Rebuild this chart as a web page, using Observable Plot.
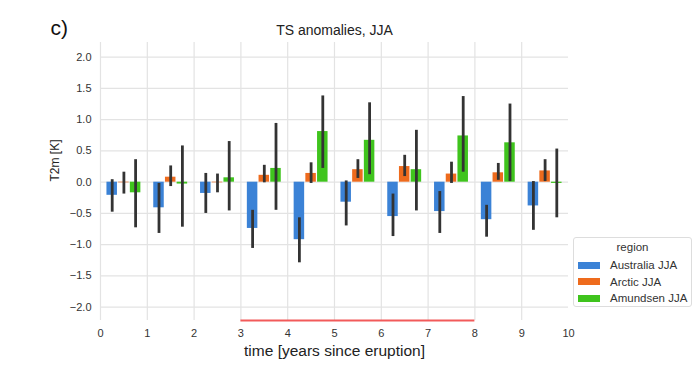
<!DOCTYPE html>
<html>
<head>
<meta charset="utf-8">
<script src="https://cdn.jsdelivr.net/npm/d3@7"></script>
<script src="https://cdn.jsdelivr.net/npm/@observablehq/plot@0.6"></script>
<style>
  body { margin: 0; background: #fff; font-family: "Liberation Sans", Arial, sans-serif; }
  #wrap { position: relative; width: 700px; height: 371px; }
  #legend { position: absolute; left: 573px; top: 237px; width: 119px; height: 70px;
    border: 1px solid #ddd; border-radius: 3px; background: #fff; box-sizing: border-box; font-size: 11.5px; color: #333; }
  #legend .ttl { text-align: center; margin-top: 3px; height: 16px; }
  #legend .row { display: flex; align-items: center; height: 16.5px; padding-left: 4px; }
  #legend .sw { width: 22px; height: 7px; margin-right: 10px; }
</style>
</head>
<body>
<div id="wrap"></div>
<script>
const years = [0, 1, 2, 3, 4, 5, 6, 7, 8, 9];
const regions = ["Australia JJA", "Arctic JJA", "Amundsen JJA"];
const colors = ["#3b82d6", "#ee6b1d", "#3fc41d"];

const australiaMean = [-0.21, -0.41, -0.18, -0.74, -0.92, -0.32, -0.55, -0.47, -0.60, -0.38];
const australiaLo   = [-0.48, -0.82, -0.50, -1.06, -1.29, -0.70, -0.87, -0.82, -0.88, -0.77];
const australiaHi   = [ 0.04, -0.02,  0.14, -0.45, -0.57,  0.02, -0.19, -0.15, -0.37,  0.01];

const arcticMean = [-0.01, 0.08, -0.01, 0.11, 0.14, 0.20, 0.25, 0.13, 0.15, 0.18];
const arcticLo   = [-0.19, -0.07, -0.17, -0.01, -0.02, 0.06, 0.09, -0.02, 0.03, 0.01];
const arcticHi   = [ 0.16, 0.26, 0.13, 0.27, 0.31, 0.36, 0.43, 0.32, 0.30, 0.36];

const amundsenMean = [-0.17, -0.03, 0.07, 0.22, 0.81, 0.67, 0.20, 0.74, 0.63, -0.02];
const amundsenLo   = [-0.73, -0.72, -0.46, -0.45, 0.22, 0.12, -0.46, 0.16, 0.01, -0.57];
const amundsenHi   = [ 0.36, 0.58, 0.65, 0.94, 1.38, 1.27, 0.83, 1.37, 1.25, 0.53];

const yTicks = [-2.0, -1.5, -1.0, -0.5, 0.0, 0.5, 1.0, 1.5, 2.0];
const xTicks = [0, 1, 2, 3, 4, 5, 6, 7, 8, 9, 10];
const xGrid = [0, 1, 2, 3, 4, 5, 6, 7, 8, 9];
const period = [3, 8];
const yDomain = [-2.213, 2.235];

const series = [
  [australiaMean, australiaLo, australiaHi],
  [arcticMean, arcticLo, arcticHi],
  [amundsenMean, amundsenLo, amundsenHi]
];
const barW = 0.25;
const table = [];
series.forEach(([m, lo, hi], k) => {
  years.forEach((yr, i) => {
    const c = yr + 0.25 * (k + 1);
    table.push({ region: regions[k], x1: c - barW / 2, x2: c + barW / 2, xc: c, v: m[i], lo: lo[i], hi: hi[i] });
  });
});

const plot = Plot.plot({
  width: 700,
  height: 371,
  marginLeft: 100,
  marginRight: 132,
  marginTop: 42,
  marginBottom: 51,
  style: { fontFamily: "Liberation Sans, Arial, sans-serif", background: "#fff" },
  x: { domain: [0, 10] },
  y: { domain: yDomain },
  color: { domain: regions, range: colors },
  marks: [
    Plot.gridY(yTicks, { stroke: "#e3e3e3", strokeOpacity: 1, strokeWidth: 1.2 }),
    Plot.gridX(xGrid, { stroke: "#e3e3e3", strokeOpacity: 1, strokeWidth: 1.2 }),
    Plot.axisY(yTicks, { tickSize: 0, tickPadding: 9, tickFormat: d3.format(".1f"), fontSize: 11, fill: "#333", label: null }),
    Plot.axisX(xTicks, { tickSize: 0, tickPadding: 9, fontSize: 11, fill: "#333", label: null }),
    Plot.rectY(table, { x1: "x1", x2: "x2", y1: 0, y2: "v", fill: "region", insetLeft: 0.6, insetRight: 0.6 }),
    Plot.ruleX(table, { x: "xc", y1: "lo", y2: "hi", stroke: "#333", strokeWidth: 2.8 }),
    Plot.ruleY([yDomain[0]], { x1: period[0], x2: period[1], stroke: "#f25a5a", strokeWidth: 2 }),
    Plot.text(["TS anomalies, JJA"], { frameAnchor: "top", dy: -17, fontSize: 14, fill: "#222" }),
    Plot.text(["c)"], { frameAnchor: "top-left", dx: -50, dy: -22, fontSize: 21, fill: "#111" }),
    Plot.text(["time [years since eruption]"], { frameAnchor: "bottom", dy: 35, fontSize: 15.5, fill: "#222" }),
    Plot.text(["T2m [K]"], { frameAnchor: "left", dx: -45, rotate: -90, fontSize: 12, fill: "#222" })
  ]
});

const wrap = document.getElementById("wrap");
wrap.appendChild(plot);

const legend = document.createElement("div");
legend.id = "legend";
const ttl = document.createElement("div");
ttl.className = "ttl";
ttl.textContent = "region";
legend.appendChild(ttl);
regions.forEach((r, k) => {
  const row = document.createElement("div");
  row.className = "row";
  const sw = document.createElement("div");
  sw.className = "sw";
  sw.style.background = colors[k];
  const t = document.createElement("span");
  t.textContent = r;
  row.appendChild(sw);
  row.appendChild(t);
  legend.appendChild(row);
});
wrap.appendChild(legend);
</script>
</body>
</html>
